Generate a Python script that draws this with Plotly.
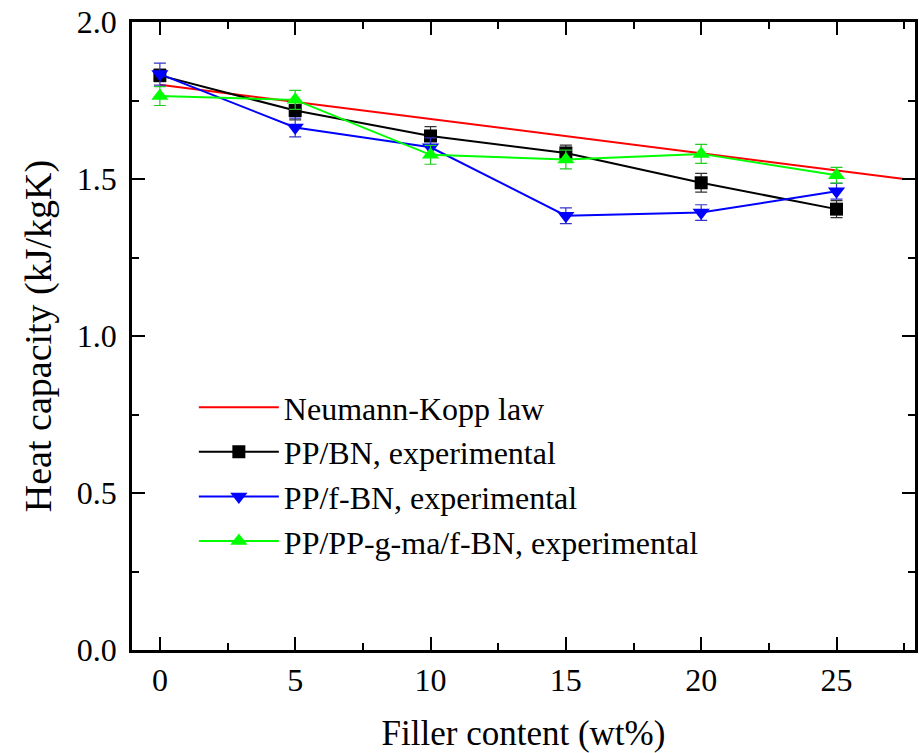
import plotly.graph_objects as go

# ---- data ----
filler = [0, 5, 10, 15, 20, 25]
nk_x = [0, 27.5]
nk_y = [1.80, 1.50]
pp_bn = [1.830, 1.718, 1.637, 1.583, 1.488, 1.404]
pp_bn_err = [0.02, 0.03, 0.03, 0.025, 0.03, 0.027]
pp_fbn = [1.834, 1.664, 1.601, 1.383, 1.393, 1.461]
pp_fbn_err = [0.035, 0.03, 0.03, 0.025, 0.025, 0.025]
pp_ma_fbn = [1.764, 1.752, 1.577, 1.562, 1.580, 1.512]
pp_ma_fbn_err = [0.03, 0.03, 0.03, 0.03, 0.03, 0.025]

FONT = "Liberation Serif"

fig = go.Figure()
fig.add_trace(go.Scatter(x=nk_x, y=nk_y, mode="lines", name="Neumann-Kopp law",
                         line=dict(color="#FF0000", width=2)))
fig.add_trace(go.Scatter(x=filler, y=pp_bn, mode="lines+markers", name="PP/BN, experimental",
                         line=dict(color="#000000", width=2),
                         marker=dict(symbol="square", size=13, color="#000000"),
                         error_y=dict(type="data", array=pp_bn_err, color="#333333", thickness=1.2, width=6)))
fig.add_trace(go.Scatter(x=filler, y=pp_fbn, mode="lines+markers", name="PP/f-BN, experimental",
                         line=dict(color="#0000FF", width=2),
                         marker=dict(symbol="triangle-down", size=15, color="#0000FF"),
                         error_y=dict(type="data", array=pp_fbn_err, color="#3333CC", thickness=1.2, width=6)))
fig.add_trace(go.Scatter(x=filler, y=pp_ma_fbn, mode="lines+markers", name="PP/PP-g-ma/f-BN, experimental",
                         line=dict(color="#00FF00", width=2),
                         marker=dict(symbol="triangle-up", size=15, color="#00FF00"),
                         error_y=dict(type="data", array=pp_ma_fbn_err, color="#22CC22", thickness=1.2, width=6)))

axis_common = dict(showline=True, linecolor="black", linewidth=2.5, mirror="ticks",
                   ticks="inside", ticklen=13, tickwidth=2, tickcolor="black",
                   showgrid=False, zeroline=False,
                   tickfont=dict(family=FONT, size=32, color="black"))

fig.update_xaxes(range=[-1.03, 27.9], tick0=0, dtick=5,
                 minor=dict(ticks="inside", ticklen=7, tickwidth=2, tickcolor="black", dtick=2.5, tick0=0),
                 title=dict(text="Filler content (wt%)", font=dict(family=FONT, size=35, color="black"), standoff=24),
                 **axis_common)
fig.update_yaxes(range=[0, 2.0], tick0=0, dtick=0.5, tickformat=".1f",
                 minor=dict(ticks="inside", ticklen=7, tickwidth=2, tickcolor="black", dtick=0.25, tick0=0),
                 title=dict(text="Heat capacity (kJ/kgK)", font=dict(family=FONT, size=38, color="black"), standoff=14),
                 ticklabelstandoff=6,
                 **axis_common)

fig.update_layout(
    width=919, height=753,
    margin=dict(l=132, r=4, t=22, b=103, autoexpand=False),
    paper_bgcolor="white", plot_bgcolor="white",
    font=dict(family=FONT, color="black"),
    legend=dict(x=0.079, y=0.43, xanchor="left", yanchor="top",
                font=dict(family=FONT, size=32, color="black"),
                bgcolor="rgba(0,0,0,0)", itemwidth=80),
)

fig.write_html("out.html", config={"displayModeBar": False},
               post_script="document.body.style.margin='0px';document.body.style.overflow='hidden';")
